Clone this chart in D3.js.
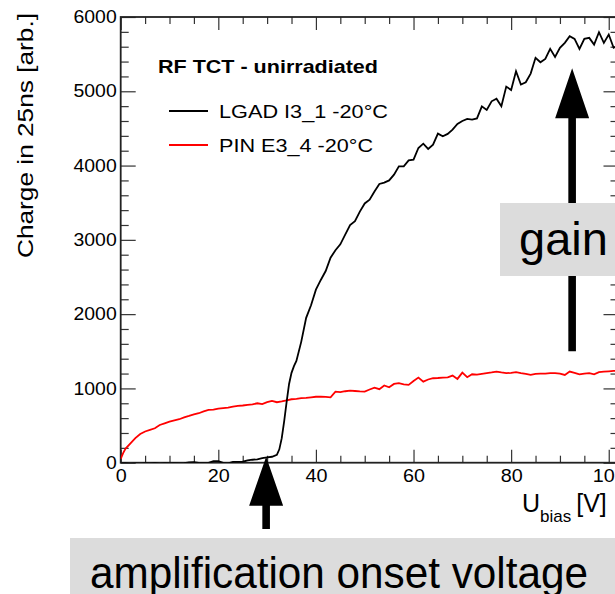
<!DOCTYPE html>
<html><head><meta charset="utf-8">
<script src="https://cdn.jsdelivr.net/npm/d3@7"></script>
<style>html,body{margin:0;padding:0;background:#fff;overflow:hidden}</style>
</head><body><svg id="c" width="615" height="594"></svg>
<script>
// ---- data ----
const lgadV = [0,1,2,3,4,5,6,7,8,9,10,11,12,13,14,15,16,17,18,19,20,21,22,23,24,25,26,27,28,29,30,31,32,32.5,33,33.5,34,34.5,35,35.5,36,37,38,39,40,41,42,43,44,45,46,47,48,49,50,51,52,53,54,55,56,57,58,59,60,61,62,63,64,65,66,67,68,69,70,71,72,73,74,75,76,77,78,79,80,81,82,83,84,85,86,87,88,89,90,91,92,93,94,95,96,97,98,99,100,101,102];
const lgadQ = [-10,-5,-15,-8,-12,-6,-10,-4,-12,-7,-9,-5,-8,-6,5,8,-4,-6,-2,20,22,-3,-8,10,12,13,30,40,46,62,72,80,105,180,330,560,820,1060,1210,1300,1370,1630,1950,2120,2330,2460,2580,2760,2860,2940,3070,3200,3250,3380,3490,3540,3650,3752,3770,3800,3877,3989,3990,4070,4079,4237,4295,4224,4282,4430,4394,4426,4484,4560,4600,4628,4619,4635,4798,4750,4865,4900,4798,5063,5018,5269,5090,5121,5238,5450,5391,5436,5571,5463,5585,5652,5741,5705,5571,5705,5719,5629,5795,5652,5764,5585,5620];
const pinV = [0,0.5,1,2,3,4,5,6,7,8,9,10,11,12,13,14,15,16,17,18,19,20,21,22,23,24,25,26,27,28,29,30,31,32,33,34,35,36,37,38,39,40,41,42,43,44,45,46,47,48,49,50,51,52,53,54,55,56,57,58,59,60,61,62,63,64,65,66,67,68,69,70,71,72,73,74,75,76,77,78,79,80,81,82,83,84,85,86,87,88,89,90,91,92,93,94,95,96,97,98,99,100,101,102];
const pinQ = [50,130,190,261,330,387,420,441,463,508,530,553,570,585,610,629,650,666,690,710,715,728,735,741,755,764,770,778,785,800,790,815,831,814,825,840,854,860,868,872,880,888,890,885,880,957,950,962,970,965,960,957,985,1011,990,1040,1015,1060,1070,1055,1047,1100,1146,1092,1120,1137,1140,1146,1150,1173,1128,1213,1151,1191,1185,1195,1205,1215,1227,1215,1205,1210,1218,1205,1195,1182,1195,1200,1198,1205,1205,1200,1182,1227,1210,1190,1200,1205,1190,1218,1225,1230,1236,1240];
const xMajor = [0,20,40,60,80,100];
const yMajor = [0,1000,2000,3000,4000,5000,6000];
const seriesNames = ["LGAD I3_1 -20°C","PIN E3_4 -20°C"];
const seriesColors = ["#000000","#ff0000"];

// ---- layout ----
const L = 120.7, R = 618.5, T = 17, B = 462.7;
const x = d3.scaleLinear().domain([0,102]).range([L,R]);
const y = d3.scaleLinear().domain([0,6000]).range([B,T]);
const svg = d3.select("#c");
const FONT = "'Liberation Sans', Arial, Helvetica, sans-serif";

svg.append("defs").append("clipPath").attr("id","clip")
  .append("rect").attr("x",L).attr("y",T).attr("width",R-L).attr("height",B-T);

const xMinor = d3.range(0,103,5).filter(v=>v%20!==0);
const yMinor = d3.range(0,6001,200).filter(v=>v%1000!==0);

function styleAxis(g){ g.select(".domain").remove(); g.selectAll("line").attr("stroke","#333").attr("stroke-width",1.2); }

// bottom axis
svg.append("g").attr("transform",`translate(0,${B})`)
  .call(d3.axisBottom(x).tickValues(xMajor).tickSize(-13).tickPadding(0).tickFormat(d3.format("d")))
  .call(styleAxis)
  .call(g=>g.selectAll("text").attr("y",19).attr("dy",0).attr("font-size",17.5).attr("font-family",FONT).attr("fill","#000")
     .attr("textLength",d=>String(d).length*11).attr("lengthAdjust","spacingAndGlyphs"));
svg.append("g").attr("transform",`translate(0,${B})`)
  .call(d3.axisBottom(x).tickValues(xMinor).tickSize(-7).tickFormat("")).call(styleAxis);
// top axis
svg.append("g").attr("transform",`translate(0,${T})`)
  .call(d3.axisBottom(x).tickValues(xMajor).tickSize(13).tickFormat("")).call(styleAxis);
svg.append("g").attr("transform",`translate(0,${T})`)
  .call(d3.axisBottom(x).tickValues(xMinor).tickSize(7).tickFormat("")).call(styleAxis);
// left axis
svg.append("g").attr("transform",`translate(${L},0)`)
  .call(d3.axisLeft(y).tickValues(yMajor).tickSize(-15).tickPadding(4).tickFormat(d3.format("d")))
  .call(styleAxis)
  .call(g=>g.selectAll("text").attr("font-size",17.5).attr("font-family",FONT).attr("fill","#000")
     .attr("textLength",d=>String(d).length*10.8).attr("lengthAdjust","spacingAndGlyphs"));
svg.append("g").attr("transform",`translate(${L},0)`)
  .call(d3.axisLeft(y).tickValues(yMinor).tickSize(-8).tickFormat("")).call(styleAxis);
// right axis
svg.append("g").attr("transform",`translate(${R},0)`)
  .call(d3.axisLeft(y).tickValues(yMajor).tickSize(15).tickFormat("")).call(styleAxis);
svg.append("g").attr("transform",`translate(${R},0)`)
  .call(d3.axisLeft(y).tickValues(yMinor).tickSize(8).tickFormat("")).call(styleAxis);

// frame
svg.append("rect").attr("x",L).attr("y",T).attr("width",R-L).attr("height",B-T)
  .attr("fill","none").attr("stroke","#222").attr("stroke-width",1.8);

// curves
const line = d3.line().x(d=>x(d[0])).y(d=>y(d[1]));
const plot = svg.append("g").attr("clip-path","url(#clip)");
plot.append("path").datum(pinV.map((v,i)=>[v,pinQ[i]]))
  .attr("d",line).attr("fill","none").attr("stroke",seriesColors[1]).attr("stroke-width",1.8);
plot.append("path").datum(lgadV.map((v,i)=>[v,lgadQ[i]]))
  .attr("d",line).attr("fill","none").attr("stroke",seriesColors[0]).attr("stroke-width",1.8);

// axis titles
svg.append("text").attr("transform","translate(33,13) rotate(-90)").attr("text-anchor","end")
  .attr("font-family",FONT).attr("font-size",21.5).attr("textLength",245).attr("lengthAdjust","spacingAndGlyphs")
  .text("Charge in 25ns [arb.]");
const xt = svg.append("text").attr("x",522).attr("y",512).attr("font-family",FONT).attr("font-size",25);
xt.append("tspan").text("U");
xt.append("tspan").attr("font-size",17).attr("dy",10).text("bias");
xt.append("tspan").attr("dy",-10).attr("dx",5).text("[V]");

// legend
svg.append("text").attr("x",158).attr("y",73).attr("font-family",FONT).attr("font-weight","bold")
  .attr("font-size",18.5).attr("textLength",220).attr("lengthAdjust","spacingAndGlyphs").text("RF TCT - unirradiated");
const legY = [111,145], legLen=[169,154];
seriesNames.forEach((n,i)=>{
  svg.append("line").attr("x1",169).attr("x2",208).attr("y1",legY[i]).attr("y2",legY[i])
    .attr("stroke",seriesColors[i]).attr("stroke-width",1.8);
  svg.append("text").attr("x",219).attr("y",legY[i]+7).attr("font-family",FONT).attr("font-size",18.5)
    .attr("textLength",legLen[i]).attr("lengthAdjust","spacingAndGlyphs").text(n);
});

// gain arrow
const gx = x(92.5), gTip = y(5310), gBase = y(1500), headH = 50, headW = 17, shaftW = 3.8;
svg.append("path").attr("fill","#000")
  .attr("d",`M${gx},${gTip} L${gx+headW},${gTip+headH} L${gx+shaftW},${gTip+headH} L${gx+shaftW},${gBase} L${gx-shaftW},${gBase} L${gx-shaftW},${gTip+headH} L${gx-headW},${gTip+headH} Z`);
svg.append("rect").attr("x",500).attr("y",203).attr("width",130).attr("height",73).attr("fill","#dcdcdc");
svg.append("text").attr("x",519).attr("y",255).attr("font-family",FONT).attr("font-size",47).text("gain");

// onset arrow
const ox = x(29.8), oTip = y(80), oBase = 529;
svg.append("path").attr("fill","#000")
  .attr("d",`M${ox},${oTip} L${ox+headW},${oTip+49} L${ox+shaftW},${oTip+49} L${ox+shaftW},${oBase} L${ox-shaftW},${oBase} L${ox-shaftW},${oTip+49} L${ox-headW},${oTip+49} Z`);
svg.append("rect").attr("x",70).attr("y",538).attr("width",560).attr("height",60).attr("fill","#dcdcdc");
svg.append("text").attr("x",90).attr("y",588).attr("font-family",FONT).attr("font-size",45)
  .attr("textLength",498).attr("lengthAdjust","spacingAndGlyphs").text("amplification onset voltage");
</script></body></html>
